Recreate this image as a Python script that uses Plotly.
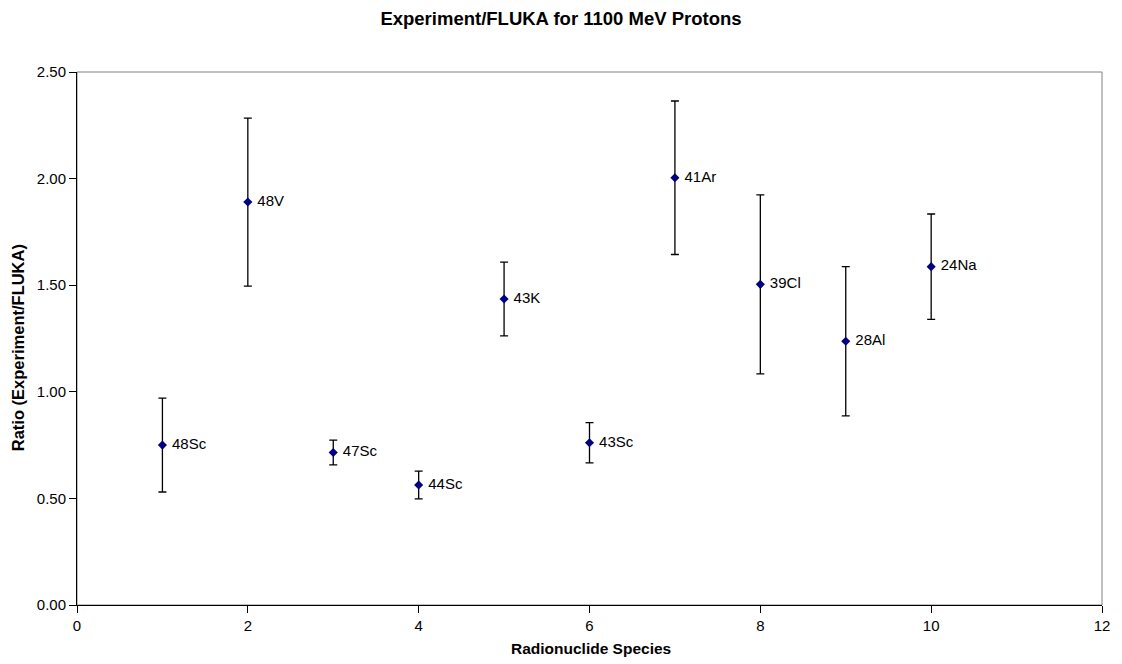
import plotly.graph_objects as go

species_x = [1, 2, 3, 4, 5, 6, 7, 8, 9, 10]
labels = ["48Sc", "48V", "47Sc", "44Sc", "43K", "43Sc", "41Ar", "39Cl", "28Al", "24Na"]
ratio = [0.75, 1.89, 0.715, 0.563, 1.435, 0.761, 2.004, 1.504, 1.237, 1.587]
err = [0.22, 0.394, 0.058, 0.065, 0.173, 0.094, 0.36, 0.42, 0.35, 0.247]

x_ticks = [0, 2, 4, 6, 8, 10, 12]
y_ticks = [0.0, 0.5, 1.0, 1.5, 2.0, 2.5]

font = "Liberation Sans, Arial, sans-serif"

W, H = 1114, 656
L, R, T, B = 69, 16, 64, 59
PW, PH = W - L - R, H - T - B

fig = go.Figure()
fig.add_trace(go.Scatter(
    x=species_x, y=ratio, mode="markers+text",
    text=["\u00a0" + s for s in labels], textposition="middle right",
    textfont=dict(family=font, size=15, color="#000000"),
    marker=dict(symbol="diamond", size=7, color="#000080"),
    error_y=dict(type="data", array=err, visible=True, color="#000000", thickness=1.3, width=4),
    showlegend=False, cliponaxis=False,
))

fig.update_layout(
    width=W, height=H,
    margin=dict(l=L, r=R, t=T, b=B),
    paper_bgcolor="white", plot_bgcolor="white",
    title=dict(text="<b>Experiment/FLUKA for 1100 MeV Protons</b>", x=(561 - 8) / W, xanchor="center",
               y=1 - 11 / H, yanchor="middle", font=dict(family=font, size=18.5, color="#000000")),
    xaxis=dict(range=[0, 12], tickvals=x_ticks, ticktext=[str(v) for v in x_ticks],
               showgrid=False, zeroline=False, showline=True, linecolor="#000000", linewidth=1,
               ticks="outside", ticklen=7, tickcolor="#000000",
               tickfont=dict(family=font, size=15, color="#000000")),
    yaxis=dict(range=[0, 2.5], tickvals=y_ticks, ticktext=["%.2f" % v for v in y_ticks],
               showgrid=False, zeroline=False, showline=True, linecolor="#000000", linewidth=1,
               ticks="outside", ticklen=7, tickcolor="#000000",
               tickfont=dict(family=font, size=15, color="#000000")),
    shapes=[dict(type="rect", xref="paper", yref="paper", x0=0, y0=0, x1=1, y1=1,
                 line=dict(color="#808080", width=1), layer="below")],
    annotations=[
        dict(text="<b>Radionuclide Species</b>", xref="paper", yref="paper",
             x=(593 - 8 - L) / PW, y=(T + PH - (648 - 8)) / PH, xanchor="center", yanchor="middle",
             showarrow=False, font=dict(family=font, size=15.5, color="#000000")),
        dict(text="<b>Ratio (Experiment/FLUKA)</b>", xref="paper", yref="paper", textangle=-90,
             x=(18 - 8 - L) / PW, y=(T + PH - (348 - 8)) / PH, xanchor="center", yanchor="middle",
             showarrow=False, font=dict(family=font, size=16.5, color="#000000")),
    ],
)

fig.write_html("out.html")
